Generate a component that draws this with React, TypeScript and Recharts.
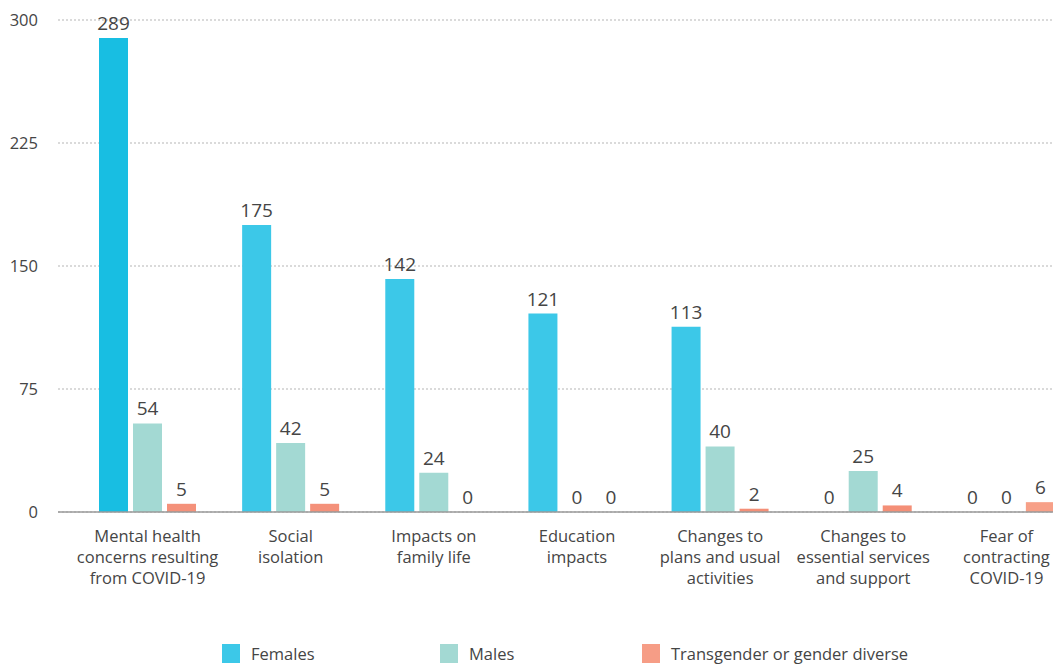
import React from "react"
import {
 BarChart,
 Bar,
 XAxis,
 YAxis,
 CartesianGrid,
 LabelList,
 Cell
} from "recharts"

const categories = [
 "Mental health concerns resulting from COVID-19",
 "Social isolation",
 "Impacts on family life",
 "Education impacts",
 "Changes to plans and usual activities",
 "Changes to essential services and support",
 "Fear of contracting COVID-19"
]

const categoryLines = [
 ["Mental health", "concerns resulting", "from COVID-19"],
 ["Social", "isolation"],
 ["Impacts on", "family life"],
 ["Education", "impacts"],
 ["Changes to", "plans and usual", "activities"],
 ["Changes to", "essential services", "and support"],
 ["Fear of", "contracting", "COVID-19"]
]

const females = [289, 175, 142, 121, 113, 0, 0]
const males = [54, 42, 24, 0, 40, 25, 0]
const transgender = [5, 5, 0, 0, 2, 4, 6]

const yTicks = [0, 75, 150, 225, 300]

const seriesNames = ["Females", "Males", "Transgender or gender diverse"]
const seriesColors = ["#3cc8e8", "#a3d9d3", "#f69d86"]

const FONT = "'Open Sans', 'Noto Sans', sans-serif"
const TEXT = "#454545"

const data = categories.map((c, i) => ({
 category: c,
 females: females[i],
 males: males[i],
 transgender: transgender[i]
}))

const CategoryTick = (props: any) => {
 const { x, y, index } = props
 const lines = categoryLines[index] || []
 return (
  <g transform={`translate(${x},${y})`}>
   {lines.map((l, i) => (
    <text
     key={i}
     x={0}
     y={i * 21}
     dy={22}
     textAnchor="middle"
     fill={TEXT}
     fontSize={16.5}
     fontFamily={FONT}
    >
     {l}
    </text>
   ))}
  </g>
 )
}

// draw the value above every bar, zeros included
const ValueLabel = (props: any) => {
 const { x, y, width, height, value } = props
 if (value === undefined || value === null) return null
 const top = value === 0 ? Number(y) + Number(height) : Number(y)
 return (
  <text
   x={Number(x) + Number(width) / 2}
   y={top - 8}
   textAnchor="middle"
   fill={TEXT}
   fontSize={19}
   fontFamily={FONT}
  >
   {value}
  </text>
 )
}

// zero values get a tiny invisible bar so their label still shows
const fillFor = (v: number, c: string) => (v === 0 ? "transparent" : c)

const legendPos = [222, 440, 642]

export default function App(){

 return(

  <div style={{position:"absolute", left:0, top:0, width:1053, height:666, overflow:"hidden", background:"#fff"}}>

   <BarChart
    width={1078}
    height={600}
    data={data}
    margin={{top:20, right:0, bottom:0, left:0}}
    barSize={29}
    barGap={5}
   >

    <CartesianGrid vertical={false} stroke="#b5b5b5" strokeDasharray="2 2" />

    <XAxis
     dataKey="category"
     tick={<CategoryTick />}
     tickLine={false}
     axisLine={{stroke:"#9a9a9a", strokeWidth:1.5}}
     interval={0}
     height={88}
     padding={{left:18, right:0}}
    />

    <YAxis
     domain={[0, 300]}
     ticks={yTicks}
     width={58}
     axisLine={false}
     tickLine={false}
     tickSize={0}
     tickMargin={20}
     tick={{fill:TEXT, fontSize:16.5, fontFamily:FONT}}
    />

    <Bar dataKey="females" fill={seriesColors[0]} minPointSize={1} isAnimationActive={false}>
     {females.map((v, i) => (
      <Cell key={i} fill={fillFor(v, i === 0 ? "#18bee2" : seriesColors[0])} />
     ))}
     <LabelList dataKey="females" content={<ValueLabel />} />
    </Bar>

    <Bar dataKey="males" fill={seriesColors[1]} minPointSize={1} isAnimationActive={false}>
     {males.map((v, i) => (
      <Cell key={i} fill={fillFor(v, seriesColors[1])} />
     ))}
     <LabelList dataKey="males" content={<ValueLabel />} />
    </Bar>

    <Bar dataKey="transgender" fill={seriesColors[2]} minPointSize={1} isAnimationActive={false}>
     {transgender.map((v, i) => (
      <Cell key={i} fill={fillFor(v, i < 2 ? "#f4917a" : i === 6 ? "#f7a088" : "#f48f77")} />
     ))}
     <LabelList dataKey="transgender" content={<ValueLabel />} />
    </Bar>

   </BarChart>

   {seriesNames.map((n, i) => (
    <div key={n} style={{position:"absolute", left:legendPos[i], top:644, height:19, lineHeight:"19px", display:"flex", alignItems:"center", fontFamily:FONT, fontSize:16.5, color:TEXT}}>
     <span style={{display:"inline-block", width:18, height:19, background:seriesColors[i], marginRight:11}} />
     <span>{n}</span>
    </div>
   ))}

  </div>

 )

}
